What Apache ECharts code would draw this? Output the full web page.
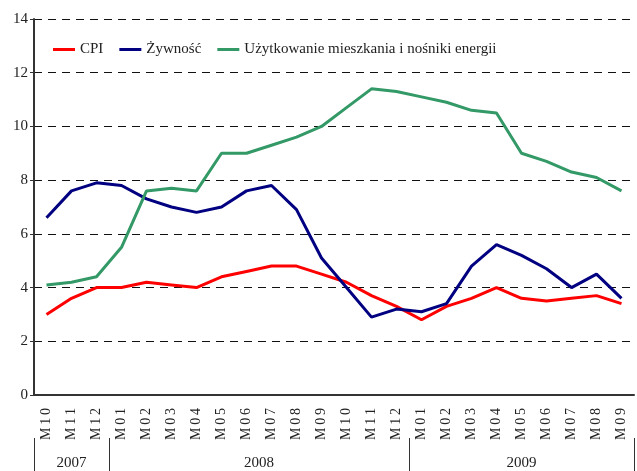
<!DOCTYPE html>
<html>
<head>
<meta charset="utf-8">
<script src="https://cdn.jsdelivr.net/npm/echarts@6/dist/echarts.min.js"></script>
<style>
  html, body { margin: 0; padding: 0; background: #fff; }
  #chart { width: 637px; height: 471px; }
</style>
</head>
<body>
<div id="chart"></div>
<script>
// miesiące od 2007 M10 do 2009 M09
var months = ['M10', 'M11', 'M12',
    'M01', 'M02', 'M03', 'M04', 'M05', 'M06', 'M07', 'M08', 'M09', 'M10', 'M11', 'M12',
    'M01', 'M02', 'M03', 'M04', 'M05', 'M06', 'M07', 'M08', 'M09'];
var years = ['2007', '2008', '2009'];

var cpi = [3.0, 3.6, 4.0,
    4.0, 4.2, 4.1, 4.0, 4.4, 4.6, 4.8, 4.8, 4.5, 4.2, 3.7, 3.3,
    2.8, 3.3, 3.6, 4.0, 3.6, 3.5, 3.6, 3.7, 3.4];
var zywnosc = [6.6, 7.6, 7.9,
    7.8, 7.3, 7.0, 6.8, 7.0, 7.6, 7.8, 6.9, 5.1, 4.0, 2.9, 3.2,
    3.1, 3.4, 4.8, 5.6, 5.2, 4.7, 4.0, 4.5, 3.6];
var mieszkanie = [4.1, 4.2, 4.4,
    5.5, 7.6, 7.7, 7.6, 9.0, 9.0, 9.3, 9.6, 10.0, 10.7, 11.4, 11.3,
    11.1, 10.9, 10.6, 10.5, 9.0, 8.7, 8.3, 8.1, 7.6];

var yTicks = [0, 2, 4, 6, 8, 10, 12, 14];

// granice lat - tam gdzie zaczyna sie M01
var bounds = [0];
months.forEach(function (m, i) {
    if (i > 0 && m === 'M01') bounds.push(i);
});
bounds.push(months.length);
var centers = years.map(function (y, i) { return (bounds[i] + bounds[i + 1]) / 2; });

var serif = '"Liberation Serif", "DejaVu Serif", serif';
var ink = '#222';

var chart = echarts.init(document.getElementById('chart'));
chart.setOption({
    animation: false,
    backgroundColor: '#fff',
    textStyle: { fontFamily: serif },
    grid: { left: 34, right: 3, top: 19, bottom: 76 },
    legend: {
        left: 48,
        top: 37,
        icon: 'rect',
        itemWidth: 22,
        itemHeight: 3,
        itemGap: 16,
        textStyle: { fontFamily: serif, fontSize: 15, color: ink },
        data: ['CPI', 'Żywność', 'Użytkowanie mieszkania i nośniki energii']
    },
    xAxis: [
        {
            type: 'category',
            data: months,
            boundaryGap: true,
            axisLine: { lineStyle: { color: '#333', width: 2 } },
            axisTick: { interval: 0, length: 43, lineStyle: { color: '#333', width: 1 } },
            axisLabel: {
                interval: 0,
                rotate: 90,
                margin: 13,
                fontFamily: serif,
                fontSize: 14,
                color: ink,
                formatter: function (v) { return v.split('').join('\u2009'); }
            }
        },
        {
            type: 'value',
            position: 'bottom',
            offset: 43,
            min: 0,
            max: months.length,
            axisLine: { show: false },
            splitLine: { show: false },
            axisTick: {
                show: true,
                customValues: bounds,
                length: 33,
                lineStyle: { color: '#333', width: 1 }
            },
            axisLabel: {
                customValues: centers,
                margin: 18,
                fontFamily: serif,
                fontSize: 15,
                color: ink,
                formatter: function (v) {
                    var i = centers.indexOf(v);
                    return i >= 0 ? years[i] : '';
                }
            }
        }
    ],
    yAxis: {
        type: 'value',
        min: yTicks[0],
        max: yTicks[yTicks.length - 1],
        interval: 2,
        axisLine: { show: true, lineStyle: { color: '#333', width: 2 } },
        axisTick: { show: true, length: 4, lineStyle: { color: '#333' } },
        axisLabel: { margin: 6, fontFamily: serif, fontSize: 15, color: ink },
        splitLine: { lineStyle: { color: '#111', width: 1, type: [8, 6] } }
    },
    series: [
        {
            name: 'CPI',
            type: 'line',
            data: cpi,
            symbol: 'none',
            color: '#ff0000',
            lineStyle: { width: 3 }
        },
        {
            name: 'Żywność',
            type: 'line',
            data: zywnosc,
            symbol: 'none',
            color: '#000080',
            lineStyle: { width: 3 }
        },
        {
            name: 'Użytkowanie mieszkania i nośniki energii',
            type: 'line',
            data: mieszkanie,
            symbol: 'none',
            color: '#339966',
            lineStyle: { width: 3 }
        }
    ]
});
</script>
</body>
</html>
